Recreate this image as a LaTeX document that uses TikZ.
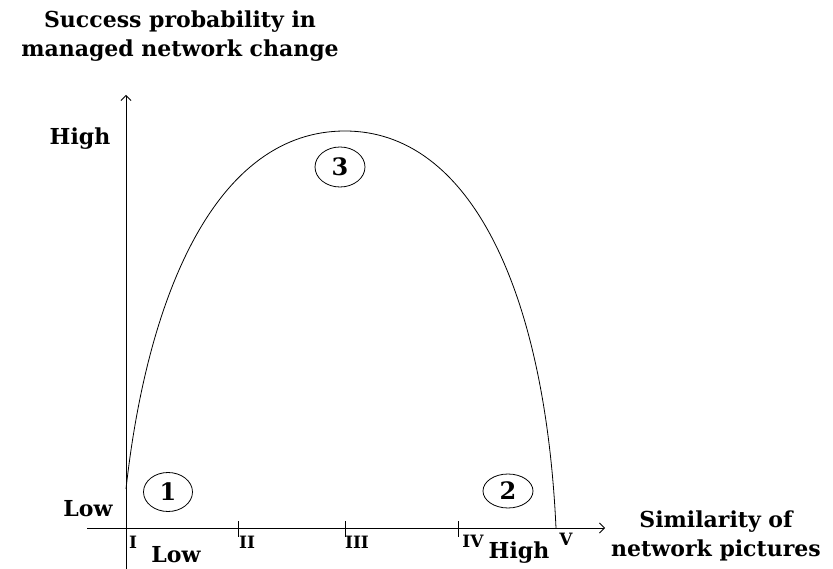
\documentclass[tikz,border=0pt]{standalone}
\usepackage{fontspec}
\setmainfont{DejaVu Serif}
\usetikzlibrary{shapes.geometric,arrows.meta}
\begin{document}
\begin{tikzpicture}[x=1pt,y=-1pt,
  lbl/.style={font=\fontsize{22}{29}\selectfont\bfseries, inner sep=0pt, align=center},
  tick/.style={font=\fontsize{17}{19}\selectfont\bfseries, inner sep=0pt},
  num/.style={draw, ellipse, line width=0.8pt, inner sep=0pt, font=\fontsize{24}{26}\selectfont\bfseries},
  axis/.style={line width=0.9pt, -{Straight Barb[length=5pt,width=10pt,line width=0.8pt]}},
  curve/.style={line width=0.8pt}]
\useasboundingbox (0,0) rectangle (833,569);
% axes
\coordinate (yb) at (126,569);
\coordinate (yt) at (126,95);
\coordinate (xl) at (87,528);
\coordinate (xr) at (605,528);
\draw[axis] (yb) -- (yt);
\draw[axis] (xl) -- (xr);
% ticks
\foreach \n/\x in {t2/238, t3/345, t4/458} {
  \coordinate (\n a) at (\x,521);
  \coordinate (\n b) at (\x,537);
  \draw[line width=0.8pt] (\n a) -- (\n b);
}
% curve
\coordinate (cs) at (126,489);
\coordinate (cp) at (345,131);
\coordinate (ce) at (556,528);
\draw[curve] (cs) .. controls (148,290) and (218,131) .. (cp)
                  .. controls (470,131) and (545,290) .. (ce);
% labels
\node[lbl] (title) at (180,36) {Success probability in\\managed network change};
\node[lbl] (yhigh) at (80,139) {High};
\node[lbl] (ylow) at (88,509) {Low};
\node[lbl] (xlab) at (716,536) {Similarity of\\network pictures};
\node[lbl] (xlow) at (176,555) {Low};
\node[lbl] (xhigh) at (519,553) {High};
\node[tick] (tI) at (133,542) {I};
\node[tick] (tII) at (247,542) {II};
\node[tick] (tIII) at (357,542) {III};
\node[tick] (tIV) at (473,541) {IV};
\node[tick] (tV) at (566,539) {V};
% numbered ellipses
\node[num, minimum width=49pt, minimum height=39pt] (n1) at (168,492) {1};
\node[num, minimum width=50pt, minimum height=34pt] (n2) at (508,491) {2};
\node[num, minimum width=50pt, minimum height=40pt] (n3) at (340,167) {3};
\end{tikzpicture}
\end{document}
